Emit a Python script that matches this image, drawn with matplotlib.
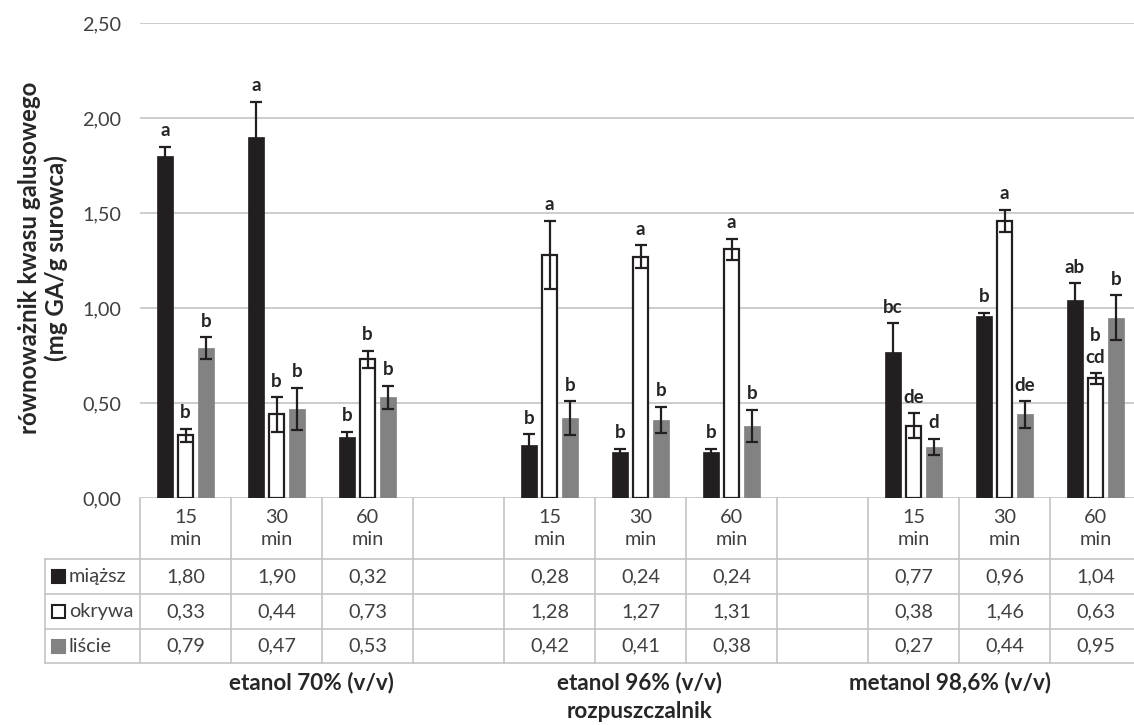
import numpy as np
import matplotlib.pyplot as plt
import matplotlib.transforms as mtransforms
from matplotlib.patches import Rectangle

plt.rcParams['font.family'] = ['Lato', 'DejaVu Sans']

# dane: czas ekstrakcji (puste kolumny rozdzielają rozpuszczalniki)
czas = ['15\nmin', '30\nmin', '60\nmin', '',
        '15\nmin', '30\nmin', '60\nmin', '',
        '15\nmin', '30\nmin', '60\nmin']
rozpuszczalniki = ['etanol 70% (v/v)', 'etanol 96% (v/v)', 'metanol 98,6% (v/v)']
poz_rozp = [1.38, 4.99, 8.4]

serie = ['miąższ', 'okrywa', 'liście']
miazsz = [1.80, 1.90, 0.32, np.nan, 0.28, 0.24, 0.24, np.nan, 0.77, 0.96, 1.04]
okrywa = [0.33, 0.44, 0.73, np.nan, 1.28, 1.27, 1.31, np.nan, 0.38, 1.46, 0.63]
liscie = [0.79, 0.47, 0.53, np.nan, 0.42, 0.41, 0.38, np.nan, 0.27, 0.44, 0.95]

# odchylenia standardowe
sd_miazsz = [0.05, 0.185, 0.03, np.nan, 0.055, 0.02, 0.02, np.nan, 0.15, 0.015, 0.09]
sd_okrywa = [0.035, 0.09, 0.045, np.nan, 0.18, 0.06, 0.055, np.nan, 0.065, 0.058, 0.028]
sd_liscie = [0.056, 0.11, 0.06, np.nan, 0.09, 0.07, 0.085, np.nan, 0.043, 0.07, 0.118]

# grupy jednorodne
lit_miazsz = ['a', 'a', 'b', '', 'b', 'b', 'b', '', 'bc', 'b', 'ab']
lit_okrywa = ['b', 'b', 'b', '', 'a', 'a', 'a', '', 'de', 'a', 'b\ncd']
lit_liscie = ['b', 'b', 'b', '', 'b', 'b', 'b', '', 'd', 'de', 'b']

y_ticks = [0, 0.5, 1.0, 1.5, 2.0, 2.5]

W, H = 1134, 725
fig = plt.figure(figsize=(W / 100, H / 100), dpi=100)
ax = fig.add_axes([140 / W, 1 - 498 / H, 1001 / W, 475 / H])

x = np.arange(len(czas))
szer = 0.17
przes = 0.225
tekst_kolor = '#404040'

wartosci = [miazsz, okrywa, liscie]
odch = [sd_miazsz, sd_okrywa, sd_liscie]
litery = [lit_miazsz, lit_okrywa, lit_liscie]
kolory = ['#231f20', 'white', '#828282']
krawedzie = ['#231f20', '#231f20', '#828282']

for i in range(3):
    v = np.array(wartosci[i])
    e = np.array(odch[i])
    ok = ~np.isnan(v)
    xs = x[ok] + (i - 1) * przes
    ax.bar(xs, v[ok], width=szer, color=kolory[i], edgecolor=krawedzie[i],
           linewidth=1.6 if i == 1 else 0.5, zorder=3)
    ax.errorbar(xs, v[ok], yerr=e[ok], fmt='none', ecolor='#231f20',
                elinewidth=1.6, capsize=4.5, capthick=1.6, zorder=4)
    for xx, vv, ee, lit in zip(xs, v[ok], e[ok], np.array(litery[i])[ok]):
        ax.annotate(lit, (xx, vv + ee), xytext=(0, 7.5), textcoords='offset points',
                    ha='center', va='baseline', fontsize=13.5, fontweight='bold',
                    color='#262626', linespacing=1.3, zorder=5)

ax.set_xlim(-0.5, len(czas) - 0.5)
ax.set_ylim(0, 2.5)
ax.set_yticks(y_ticks)
ax.set_yticklabels([f'{t:.2f}'.replace('.', ',') for t in y_ticks])
ax.tick_params(axis='y', length=0, pad=13.5, labelsize=14.3, labelcolor=tekst_kolor)
ax.set_xticks([])
ax.yaxis.grid(True, color='#c3c3c3', linewidth=1.2, zorder=0)
ax.set_axisbelow(True)
for s in ax.spines.values():
    s.set_visible(False)

fig.text(43 / W, 1 - 258 / H, 'równoważnik kwasu galusowego\n(mg GA/g surowca)',
         rotation=90, ha='center', va='center', multialignment='center',
         fontsize=17.3, fontweight='bold', color='#262626', linespacing=1.2)

# tabela danych pod wykresem
tr = mtransforms.blended_transform_factory(ax.transData, fig.transFigure)
linia = dict(color='#c3c3c3', linewidth=1.2, clip_on=False)


def fy(py):
    return 1 - py / H


wiersze = [498, 559, 594, 629, 663]
for b in np.arange(len(czas) + 1) - 0.5:
    ax.plot([b, b], [fy(wiersze[0]), fy(wiersze[-1])], transform=tr, **linia)
for py in wiersze[1:]:
    fig.add_artist(plt.Line2D([45 / W, 1], [fy(py), fy(py)], **linia))
fig.add_artist(plt.Line2D([45 / W, 45 / W], [fy(wiersze[1]), fy(wiersze[-1])], **linia))

for xx, c in zip(x, czas):
    ax.text(xx, fy((wiersze[0] + wiersze[1]) / 2), c, transform=tr, ha='center',
            va='center', fontsize=14.3, color=tekst_kolor, linespacing=1.35)

for r in range(3):
    yc = fy((wiersze[r + 1] + wiersze[r + 2]) / 2)
    fig.add_artist(Rectangle((52 / W, yc - 6.5 / H), 13 / W, 13 / H,
                             facecolor=kolory[r], edgecolor='#231f20' if r < 2 else kolory[r],
                             linewidth=1.5, transform=fig.transFigure))
    fig.text(69 / W, yc, serie[r], ha='left', va='center', fontsize=14.3, color=tekst_kolor)
    for xx, v in zip(x, wartosci[r]):
        if not np.isnan(v):
            ax.text(xx, yc, f'{v:.2f}'.replace('.', ','), transform=tr, ha='center',
                    va='center', fontsize=14.3, color=tekst_kolor)

for p, nazwa in zip(poz_rozp, rozpuszczalniki):
    ax.text(p, fy(683), nazwa, transform=tr, ha='center', va='center',
            fontsize=16.2, fontweight='bold', color='#262626')
ax.text(poz_rozp[1], fy(712), 'rozpuszczalnik', transform=tr, ha='center', va='center',
        fontsize=16.2, fontweight='bold', color='#262626')

fig.savefig('out.png', dpi=100, facecolor='white')
